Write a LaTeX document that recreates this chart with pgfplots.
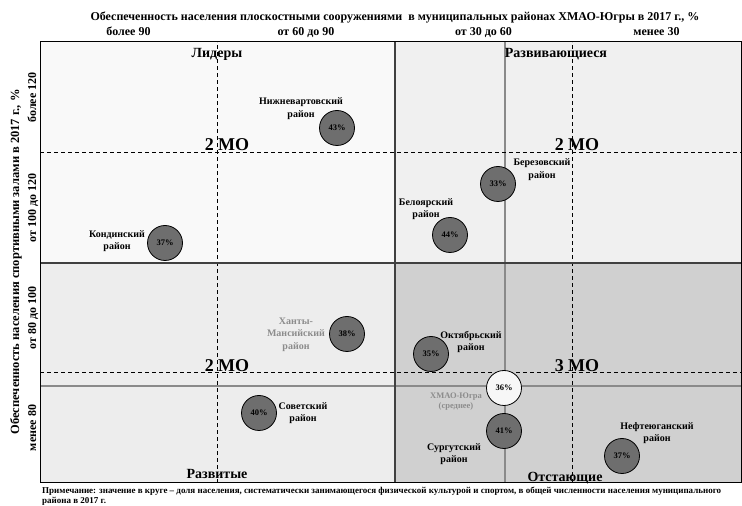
\documentclass[border=0pt]{standalone}
\usepackage{fontspec}
\setmainfont{Liberation Serif}
\usepackage{pgfplots}
\pgfplotsset{compat=1.18}
\definecolor{qTL}{HTML}{F9F9F9}
\definecolor{qTR}{HTML}{F0F0F0}
\definecolor{qBL}{HTML}{EDEDED}
\definecolor{qBR}{HTML}{D0D0D0}
\definecolor{bub}{HTML}{6E6E6E}
\definecolor{txtgray}{HTML}{8C8C8C}
\definecolor{divline}{HTML}{404040}
\definecolor{avgline}{HTML}{8A8A8A}
\tikzset{
  lbl/.style={align=center, inner sep=0pt, font=\bfseries\fontsize{10}{12.5}\selectfont},
  quad/.style={font=\bfseries\fontsize{14}{16}\selectfont},
  mo/.style={font=\bfseries\fontsize{18}{20}\selectfont},
}
\begin{document}
\begin{tikzpicture}[x=1pt,y=1pt]
\path[use as bounding box] (0,0) rectangle (742,506);
\begin{axis}[at={(40pt,23pt)}, anchor=south west, scale only axis,
  width=701pt, height=441pt, xmin=40, xmax=741, ymin=23, ymax=464,
  xtick=\empty, ytick=\empty, clip=false, axis on top,
  axis line style={black, line width=1pt},
]
% quadrant fills
\addplot[draw=none, fill=qTL] coordinates {(40,243) (395,243) (395,464) (40,464)} -- cycle;
\addplot[draw=none, fill=qTR] coordinates {(395,243) (741,243) (741,464) (395,464)} -- cycle;
\addplot[draw=none, fill=qBL] coordinates {(40,23) (395,23) (395,243) (40,243)} -- cycle;
\addplot[draw=none, fill=qBR] coordinates {(395,23) (741,23) (741,243) (395,243)} -- cycle;
% average lines
\addplot[avgline, line width=1.2pt] coordinates {(505,23) (505,464)};
\addplot[avgline, line width=1.2pt] coordinates {(40,120) (741,120)};
% dashed lines
\addplot[black, line width=1pt, dash pattern=on 4pt off 3pt] coordinates {(217,23) (217,464)};
\addplot[black, line width=1pt, dash pattern=on 4pt off 3pt] coordinates {(572,23) (572,464)};
\addplot[black, line width=1pt, dash pattern=on 4pt off 3pt] coordinates {(40,353) (741,353)};
\addplot[black, line width=1pt, dash pattern=on 4pt off 3pt] coordinates {(40,133) (741,133)};
% dividers
\addplot[divline, line width=1.8pt] coordinates {(395,23) (395,464)};
\addplot[divline, line width=1.8pt] coordinates {(40,243) (741,243)};
% bubbles
\addplot[only marks, mark=*, mark size=17.5,
  mark options={fill=bub, draw=black, line width=0.8pt},
  point meta=explicit symbolic, nodes near coords,
  nodes near coords style={anchor=center, font=\bfseries\fontsize{8.5}{10}\selectfont}]
  coordinates {
  (337,378) [43\%]
  (165,263) [37\%]
  (498,322) [33\%]
  (450,271) [44\%]
  (347,172) [38\%]
  (259,93) [40\%]
  (431,152) [35\%]
  (504,75) [41\%]
  (622,50) [37\%]
  };
\addplot[only marks, mark=*, mark size=17.5,
  mark options={fill=white!97!black, draw=black, line width=0.8pt},
  point meta=explicit symbolic, nodes near coords,
  nodes near coords style={anchor=center, font=\bfseries\fontsize{8.5}{10}\selectfont}]
  coordinates {(504,118) [36\%]};
% district labels
\node[lbl] at (axis cs:301,397.5) {Нижневартовский\\район};
\node[lbl] at (axis cs:117,265) {Кондинский\\район};
\node[lbl] at (axis cs:542,336.5) {Березовский\\район};
\node[lbl] at (axis cs:426,297) {Белоярский\\район};
\node[lbl, text=txtgray] at (axis cs:296,171.5) {Ханты-\\Мансийский\\район};
\node[lbl, text=txtgray, font=\bfseries\fontsize{8.5}{10}\selectfont] at (axis cs:456,104) {ХМАО-Югра\\(среднее)};
\node[lbl] at (axis cs:303,93) {Советский\\район};
\node[lbl] at (axis cs:471,164) {Октябрьский\\район};
\node[lbl] at (axis cs:454,52) {Сургутский\\район};
\node[lbl] at (axis cs:657,73) {Нефтеюганский\\район};
% quadrant names
\node[quad] at (axis cs:217,452) {Лидеры};
\node[quad] at (axis cs:556,452) {Развивающиеся};
\node[quad] at (axis cs:217,32) {Развитые};
\node[quad] at (axis cs:565,28) {Отстающие};
\node[mo] at (axis cs:227,361) {2 МО};
\node[mo] at (axis cs:577,361) {2 МО};
\node[mo] at (axis cs:227,140) {2 МО};
\node[mo] at (axis cs:577,140) {3 МО};
\end{axis}
% outer texts
\node[anchor=base, inner sep=0pt, font=\bfseries\fontsize{12}{14}\selectfont] at (395,485) {Обеспеченность населения плоскостными сооружениями\ \ в муниципальных районах ХМАО-Югры в 2017 г., \%};
\begin{scope}[font=\bfseries\fontsize{12}{14}\selectfont, inner sep=0pt]
\node[anchor=base] at (128.5,470) {более 90};
\node[anchor=base] at (306,470) {от 60 до 90};
\node[anchor=base] at (483.5,470) {от 30 до 60};
\node[anchor=base] at (656.5,470) {менее 30};
\node[rotate=90, anchor=base] at (36,408.5) {более 120};
\node[rotate=90, anchor=base] at (36,298) {от 100 до 120};
\node[rotate=90, anchor=base] at (36,188) {от 80 до 100};
\node[rotate=90, anchor=base] at (36,78) {менее 80};
\node[rotate=90, anchor=base, font=\bfseries\fontsize{12.5}{14}\selectfont] at (19,244) {Обеспеченность населения спортивными залами в 2017 г., \%};
\end{scope}
\node[anchor=west, inner sep=0pt, font=\bfseries\fontsize{9}{11}\selectfont] at (42,15) {Примечание: значение в круге – доля населения, систематически занимающегося физической культурой и спортом, в общей численности населения муниципального};
\node[anchor=west, inner sep=0pt, font=\bfseries\fontsize{9}{11}\selectfont] at (42,4.5) {района в 2017 г.};
\end{tikzpicture}
\end{document}
